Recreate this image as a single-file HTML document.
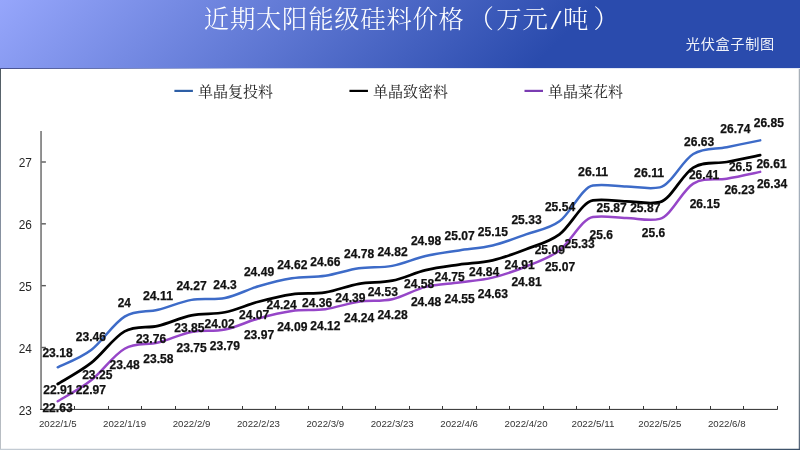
<!DOCTYPE html>
<html lang="zh-CN">
<head>
<meta charset="utf-8">
<title>近期太阳能级硅料价格（万元/吨）</title>
<style>
html,body{margin:0;padding:0;background:#fff;}
body{width:800px;height:450px;overflow:hidden;}
svg{display:block;will-change:transform;}
.t{font-family:"Liberation Serif","Noto Serif CJK SC",serif;font-weight:300;fill:#fff;font-size:25.4px;letter-spacing:0.7px;}
.s{font-family:"Liberation Sans","Noto Sans CJK SC",sans-serif;fill:#fff;font-size:14.2px;letter-spacing:0.65px;font-weight:400;fill-opacity:0.93;}
.lg{font-family:"Liberation Serif","Noto Serif CJK SC",serif;font-weight:400;fill:#222;font-size:15px;}
.ax{font-family:"Liberation Sans",sans-serif;fill:#262626;font-size:12px;}
.dt{font-family:"Liberation Sans",sans-serif;fill:#333;font-size:9.8px;}
.dl{font-family:"Liberation Sans",sans-serif;font-weight:bold;fill:#111;font-size:12.2px;stroke:#111;stroke-width:0.25px;}
</style>
</head>
<body>
<svg width="800" height="450" viewBox="0 0 800 450">
<defs>
<linearGradient id="hg" gradientUnits="userSpaceOnUse" x1="0" y1="0" x2="300" y2="300">
<stop offset="0" stop-color="#96a6fb"/>
<stop offset="1" stop-color="#2a4bad"/>
</linearGradient>
<linearGradient id="hl" gradientUnits="userSpaceOnUse" x1="0" y1="0" x2="800" y2="0"><stop offset="0" stop-color="#46508f" stop-opacity="1"/><stop offset="0.12" stop-color="#4a5aa0" stop-opacity="0.85"/><stop offset="0.3" stop-color="#4660b8" stop-opacity="0.35"/><stop offset="0.5" stop-color="#3a58b4" stop-opacity="0.15"/><stop offset="1" stop-color="#2a4aaa" stop-opacity="0.12"/></linearGradient>
<linearGradient id="bl" x1="0" y1="0" x2="0" y2="1"><stop offset="0" stop-color="#4f5a60"/><stop offset="0.36" stop-color="#808b9b"/><stop offset="1" stop-color="#bcc1c6"/></linearGradient>
<linearGradient id="br" x1="0" y1="0" x2="0" y2="1"><stop offset="0" stop-color="#a8b0b8"/><stop offset="0.36" stop-color="#a3aebb"/><stop offset="0.74" stop-color="#7f8a8e"/><stop offset="1" stop-color="#55657a"/></linearGradient>
<linearGradient id="bb" x1="0" y1="0" x2="1" y2="0"><stop offset="0" stop-color="#c4ccd4"/><stop offset="0.5" stop-color="#9fa9b5"/><stop offset="0.75" stop-color="#707d8b"/><stop offset="1" stop-color="#3a5068"/></linearGradient>
</defs>
<rect x="0" y="0" width="800" height="450" fill="#ffffff"/>
<rect x="0" y="0" width="800" height="68" fill="url(#hg)"/>
<rect x="0" y="68" width="800" height="1" fill="url(#hl)"/>
<rect x="0" y="69" width="1" height="381" fill="url(#bl)"/>
<rect x="798.75" y="69" width="1.25" height="381" fill="url(#br)"/>
<rect x="0" y="448.75" width="800" height="1.25" fill="url(#bb)"/>
<text class="t" y="28.3"><tspan x="203.8">近期太阳能级硅料价格</tspan><tspan x="468.5">（</tspan><tspan x="496.3">万元</tspan><tspan x="563">吨</tspan><tspan x="593.5">）</tspan></text>
<text class="t" transform="translate(550.6 28.5) scale(1.55 1.08)" x="0" y="0">/</text>
<text class="s" x="685.8" y="48.8">光伏盒子制图</text>
<rect x="174.40" y="89.8" width="18.5" height="2.2" fill="#2e5fa6"/>
<text class="lg" x="198.0" y="96.9">单晶复投料</text>
<rect x="349.45" y="89.8" width="18.5" height="2.2" fill="#000000"/>
<text class="lg" x="373.1" y="96.9">单晶致密料</text>
<rect x="524.50" y="89.8" width="18.5" height="2.2" fill="#7a3cb2"/>
<text class="lg" x="548.1" y="96.9">单晶菜花料</text>
<rect x="40.1" y="131" width="1.9" height="279" fill="#8c8c8c"/>
<rect x="40.1" y="408.9" width="737.7" height="1.05" fill="#383838"/>
<rect x="41.5" y="161.30" width="4.4" height="1.4" fill="#5a5a5a"/>
<text class="ax" x="18.7" y="167.20" textLength="13.2" lengthAdjust="spacingAndGlyphs">27</text>
<rect x="41.5" y="223.13" width="4.4" height="1.4" fill="#5a5a5a"/>
<text class="ax" x="18.7" y="229.03" textLength="13.2" lengthAdjust="spacingAndGlyphs">26</text>
<rect x="41.5" y="284.96" width="4.4" height="1.4" fill="#5a5a5a"/>
<text class="ax" x="18.7" y="290.86" textLength="13.2" lengthAdjust="spacingAndGlyphs">25</text>
<rect x="41.5" y="346.79" width="4.4" height="1.4" fill="#5a5a5a"/>
<text class="ax" x="18.7" y="352.69" textLength="13.2" lengthAdjust="spacingAndGlyphs">24</text>
<text class="ax" x="18.7" y="414.82" textLength="13.2" lengthAdjust="spacingAndGlyphs">23</text>
<rect x="74" y="406" width="1" height="3" fill="#383838"/>
<rect x="108" y="406" width="1" height="3" fill="#383838"/>
<rect x="141" y="406" width="1" height="3" fill="#383838"/>
<rect x="175" y="406" width="1" height="3" fill="#383838"/>
<rect x="208" y="406" width="1" height="3" fill="#383838"/>
<rect x="242" y="406" width="1" height="3" fill="#383838"/>
<rect x="275" y="406" width="1" height="3" fill="#383838"/>
<rect x="308" y="406" width="1" height="3" fill="#383838"/>
<rect x="342" y="406" width="1" height="3" fill="#383838"/>
<rect x="375" y="406" width="1" height="3" fill="#383838"/>
<rect x="409" y="406" width="1" height="3" fill="#383838"/>
<rect x="442" y="406" width="1" height="3" fill="#383838"/>
<rect x="476" y="406" width="1" height="3" fill="#383838"/>
<rect x="509" y="406" width="1" height="3" fill="#383838"/>
<rect x="543" y="406" width="1" height="3" fill="#383838"/>
<rect x="576" y="406" width="1" height="3" fill="#383838"/>
<rect x="609" y="406" width="1" height="3" fill="#383838"/>
<rect x="643" y="406" width="1" height="3" fill="#383838"/>
<rect x="676" y="406" width="1" height="3" fill="#383838"/>
<rect x="710" y="406" width="1" height="3" fill="#383838"/>
<rect x="743" y="406" width="1" height="3" fill="#383838"/>
<rect x="777" y="406" width="1" height="3" fill="#383838"/>
<text class="dt" x="38.88" y="426.7" textLength="37.7" lengthAdjust="spacingAndGlyphs">2022/1/5</text>
<text class="dt" x="103.12" y="426.7" textLength="43.0" lengthAdjust="spacingAndGlyphs">2022/1/19</text>
<text class="dt" x="172.68" y="426.7" textLength="37.7" lengthAdjust="spacingAndGlyphs">2022/2/9</text>
<text class="dt" x="236.93" y="426.7" textLength="43.0" lengthAdjust="spacingAndGlyphs">2022/2/23</text>
<text class="dt" x="306.48" y="426.7" textLength="37.7" lengthAdjust="spacingAndGlyphs">2022/3/9</text>
<text class="dt" x="370.73" y="426.7" textLength="43.0" lengthAdjust="spacingAndGlyphs">2022/3/23</text>
<text class="dt" x="440.28" y="426.7" textLength="37.7" lengthAdjust="spacingAndGlyphs">2022/4/6</text>
<text class="dt" x="504.53" y="426.7" textLength="43.0" lengthAdjust="spacingAndGlyphs">2022/4/20</text>
<text class="dt" x="571.43" y="426.7" textLength="43.0" lengthAdjust="spacingAndGlyphs">2022/5/11</text>
<text class="dt" x="638.33" y="426.7" textLength="43.0" lengthAdjust="spacingAndGlyphs">2022/5/25</text>
<text class="dt" x="707.88" y="426.7" textLength="37.7" lengthAdjust="spacingAndGlyphs">2022/6/8</text>
<path d="M57.73 367.28 C63.30 364.39 80.03 358.41 91.18 349.96 C102.33 341.51 113.47 323.27 124.62 316.57 C135.78 309.88 146.93 312.56 158.08 309.77 C169.23 306.99 180.38 301.84 191.53 299.88 C202.68 297.92 213.83 300.29 224.98 298.03 C236.13 295.76 247.28 289.58 258.43 286.28 C269.57 282.98 280.73 279.99 291.88 278.24 C303.02 276.49 314.18 277.42 325.33 275.77 C336.48 274.12 347.63 270.00 358.78 268.35 C369.93 266.70 381.08 267.94 392.23 265.87 C403.38 263.81 414.52 258.56 425.68 255.98 C436.83 253.41 447.98 252.17 459.13 250.42 C470.28 248.67 481.43 248.15 492.58 245.47 C503.73 242.79 514.88 238.36 526.03 234.34 C537.18 230.32 548.33 229.50 559.48 221.36 C570.62 213.22 581.78 187.24 592.93 185.50 C604.08 183.75 615.23 186.11 626.38 186.42 C637.52 186.73 648.68 189.78 659.83 187.35 C670.98 184.92 682.13 160.66 693.28 153.96 C704.43 147.26 715.58 149.43 726.73 147.16 C737.88 144.89 754.60 141.49 760.18 140.36" fill="none" stroke="#3d6bc8" stroke-width="2.5" stroke-linecap="round" stroke-linejoin="round"/>
<path d="M57.73 383.97 C63.30 380.47 80.03 371.71 91.18 362.95 C102.33 354.19 113.47 337.60 124.62 331.41 C135.78 325.23 146.93 328.53 158.08 325.85 C169.23 323.17 180.38 317.61 191.53 315.34 C202.68 313.07 213.83 314.51 224.98 312.25 C236.13 309.98 247.28 304.72 258.43 301.74 C269.57 298.75 280.73 295.86 291.88 294.32 C303.02 292.77 314.18 294.21 325.33 292.46 C336.48 290.71 347.63 285.76 358.78 283.81 C369.93 281.85 381.08 282.98 392.23 280.71 C403.38 278.45 414.52 272.88 425.68 270.20 C436.83 267.52 447.98 266.29 459.13 264.64 C470.28 262.99 481.43 262.89 492.58 260.31 C503.73 257.73 514.88 253.51 526.03 249.18 C537.18 244.85 548.33 242.48 559.48 234.34 C570.62 226.20 581.78 201.99 592.93 200.33 C604.08 198.68 615.23 200.95 626.38 201.26 C637.52 201.57 648.68 204.72 659.83 202.19 C670.98 199.66 682.13 174.26 693.28 167.56 C704.43 160.87 715.58 164.06 726.73 162.00 C737.88 159.94 754.60 156.33 760.18 155.20" fill="none" stroke="#000000" stroke-width="2.75" stroke-linecap="round" stroke-linejoin="round"/>
<path d="M57.73 401.28 C63.30 397.78 80.03 389.02 91.18 380.26 C102.33 371.50 113.47 355.01 124.62 348.73 C135.78 342.44 146.93 345.33 158.08 342.54 C169.23 339.76 180.38 334.20 191.53 332.03 C202.68 329.87 213.83 331.83 224.98 329.56 C236.13 327.29 247.28 321.52 258.43 318.43 C269.57 315.34 280.73 312.56 291.88 311.01 C303.02 309.46 314.18 310.70 325.33 309.16 C336.48 307.61 347.63 303.38 358.78 301.74 C369.93 300.09 381.08 301.74 392.23 299.26 C403.38 296.79 414.52 289.68 425.68 286.90 C436.83 284.11 447.98 284.11 459.13 282.57 C470.28 281.02 481.43 280.30 492.58 277.62 C503.73 274.94 514.88 271.03 526.03 266.49 C537.18 261.96 548.33 258.66 559.48 250.42 C570.62 242.17 581.78 218.65 592.93 217.03 C604.08 215.41 615.23 217.65 626.38 217.96 C637.52 218.27 648.68 221.46 659.83 218.88 C670.98 216.31 682.13 190.34 693.28 183.64 C704.43 176.94 715.58 180.65 726.73 178.69 C737.88 176.74 754.60 173.03 760.18 171.89" fill="none" stroke="#9646c8" stroke-width="2.5" stroke-linecap="round" stroke-linejoin="round"/>
<text class="dl" x="42.40" y="357.40" textLength="30.2" lengthAdjust="spacingAndGlyphs">23.18</text>
<text class="dl" x="75.78" y="340.65" textLength="30.2" lengthAdjust="spacingAndGlyphs">23.46</text>
<text class="dl" x="117.78" y="307.40" textLength="13.2" lengthAdjust="spacingAndGlyphs">24</text>
<text class="dl" x="142.90" y="300.00" textLength="30.2" lengthAdjust="spacingAndGlyphs">24.11</text>
<text class="dl" x="176.40" y="290.40" textLength="30.2" lengthAdjust="spacingAndGlyphs">24.27</text>
<text class="dl" x="213.30" y="288.65" textLength="23.4" lengthAdjust="spacingAndGlyphs">24.3</text>
<text class="dl" x="243.90" y="276.15" textLength="30.2" lengthAdjust="spacingAndGlyphs">24.49</text>
<text class="dl" x="277.15" y="268.65" textLength="30.2" lengthAdjust="spacingAndGlyphs">24.62</text>
<text class="dl" x="310.27" y="265.65" textLength="30.2" lengthAdjust="spacingAndGlyphs">24.66</text>
<text class="dl" x="344.02" y="258.15" textLength="30.2" lengthAdjust="spacingAndGlyphs">24.78</text>
<text class="dl" x="377.40" y="255.90" textLength="30.2" lengthAdjust="spacingAndGlyphs">24.82</text>
<text class="dl" x="410.90" y="245.15" textLength="30.2" lengthAdjust="spacingAndGlyphs">24.98</text>
<text class="dl" x="444.52" y="240.15" textLength="30.2" lengthAdjust="spacingAndGlyphs">25.07</text>
<text class="dl" x="477.77" y="235.65" textLength="30.2" lengthAdjust="spacingAndGlyphs">25.15</text>
<text class="dl" x="511.40" y="223.90" textLength="30.2" lengthAdjust="spacingAndGlyphs">25.33</text>
<text class="dl" x="544.90" y="210.90" textLength="30.2" lengthAdjust="spacingAndGlyphs">25.54</text>
<text class="dl" x="578.02" y="176.15" textLength="30.2" lengthAdjust="spacingAndGlyphs">26.11</text>
<text class="dl" x="634.02" y="176.90" textLength="30.2" lengthAdjust="spacingAndGlyphs">26.11</text>
<text class="dl" x="684.10" y="146.00" textLength="30.2" lengthAdjust="spacingAndGlyphs">26.63</text>
<text class="dl" x="720.30" y="133.00" textLength="30.2" lengthAdjust="spacingAndGlyphs">26.74</text>
<text class="dl" x="753.70" y="127.00" textLength="30.2" lengthAdjust="spacingAndGlyphs">26.85</text>
<text class="dl" x="43.27" y="393.65" textLength="30.2" lengthAdjust="spacingAndGlyphs">22.91</text>
<text class="dl" x="82.15" y="378.90" textLength="30.2" lengthAdjust="spacingAndGlyphs">23.25</text>
<text class="dl" x="135.90" y="343.15" textLength="30.2" lengthAdjust="spacingAndGlyphs">23.76</text>
<text class="dl" x="174.28" y="331.90" textLength="30.2" lengthAdjust="spacingAndGlyphs">23.85</text>
<text class="dl" x="204.53" y="328.40" textLength="30.2" lengthAdjust="spacingAndGlyphs">24.02</text>
<text class="dl" x="239.03" y="319.40" textLength="30.2" lengthAdjust="spacingAndGlyphs">24.07</text>
<text class="dl" x="266.52" y="309.40" textLength="30.2" lengthAdjust="spacingAndGlyphs">24.24</text>
<text class="dl" x="302.02" y="306.90" textLength="30.2" lengthAdjust="spacingAndGlyphs">24.36</text>
<text class="dl" x="335.27" y="302.40" textLength="30.2" lengthAdjust="spacingAndGlyphs">24.39</text>
<text class="dl" x="367.65" y="296.15" textLength="30.2" lengthAdjust="spacingAndGlyphs">24.53</text>
<text class="dl" x="404.02" y="288.15" textLength="30.2" lengthAdjust="spacingAndGlyphs">24.58</text>
<text class="dl" x="434.52" y="280.65" textLength="30.2" lengthAdjust="spacingAndGlyphs">24.75</text>
<text class="dl" x="469.02" y="276.40" textLength="30.2" lengthAdjust="spacingAndGlyphs">24.84</text>
<text class="dl" x="504.52" y="269.40" textLength="30.2" lengthAdjust="spacingAndGlyphs">24.91</text>
<text class="dl" x="534.65" y="254.15" textLength="30.2" lengthAdjust="spacingAndGlyphs">25.09</text>
<text class="dl" x="564.52" y="248.40" textLength="30.2" lengthAdjust="spacingAndGlyphs">25.33</text>
<text class="dl" x="596.52" y="211.90" textLength="30.2" lengthAdjust="spacingAndGlyphs">25.87</text>
<text class="dl" x="630.15" y="211.90" textLength="30.2" lengthAdjust="spacingAndGlyphs">25.87</text>
<text class="dl" x="688.90" y="178.70" textLength="30.2" lengthAdjust="spacingAndGlyphs">26.41</text>
<text class="dl" x="728.90" y="171.40" textLength="23.4" lengthAdjust="spacingAndGlyphs">26.5</text>
<text class="dl" x="756.40" y="168.40" textLength="30.2" lengthAdjust="spacingAndGlyphs">26.61</text>
<text class="dl" x="42.40" y="411.70" textLength="30.2" lengthAdjust="spacingAndGlyphs">22.63</text>
<text class="dl" x="75.78" y="393.65" textLength="30.2" lengthAdjust="spacingAndGlyphs">22.97</text>
<text class="dl" x="109.53" y="369.40" textLength="30.2" lengthAdjust="spacingAndGlyphs">23.48</text>
<text class="dl" x="143.28" y="363.15" textLength="30.2" lengthAdjust="spacingAndGlyphs">23.58</text>
<text class="dl" x="176.53" y="351.90" textLength="30.2" lengthAdjust="spacingAndGlyphs">23.75</text>
<text class="dl" x="209.78" y="350.40" textLength="30.2" lengthAdjust="spacingAndGlyphs">23.79</text>
<text class="dl" x="243.90" y="338.65" textLength="30.2" lengthAdjust="spacingAndGlyphs">23.97</text>
<text class="dl" x="277.15" y="331.40" textLength="30.2" lengthAdjust="spacingAndGlyphs">24.09</text>
<text class="dl" x="310.27" y="330.15" textLength="30.2" lengthAdjust="spacingAndGlyphs">24.12</text>
<text class="dl" x="344.02" y="322.40" textLength="30.2" lengthAdjust="spacingAndGlyphs">24.24</text>
<text class="dl" x="377.40" y="319.40" textLength="30.2" lengthAdjust="spacingAndGlyphs">24.28</text>
<text class="dl" x="410.90" y="306.40" textLength="30.2" lengthAdjust="spacingAndGlyphs">24.48</text>
<text class="dl" x="444.52" y="302.65" textLength="30.2" lengthAdjust="spacingAndGlyphs">24.55</text>
<text class="dl" x="477.77" y="298.15" textLength="30.2" lengthAdjust="spacingAndGlyphs">24.63</text>
<text class="dl" x="511.40" y="286.40" textLength="30.2" lengthAdjust="spacingAndGlyphs">24.81</text>
<text class="dl" x="544.90" y="270.65" textLength="30.2" lengthAdjust="spacingAndGlyphs">25.07</text>
<text class="dl" x="589.55" y="239.40" textLength="23.4" lengthAdjust="spacingAndGlyphs">25.6</text>
<text class="dl" x="641.80" y="237.40" textLength="23.4" lengthAdjust="spacingAndGlyphs">25.6</text>
<text class="dl" x="689.65" y="208.15" textLength="30.2" lengthAdjust="spacingAndGlyphs">26.15</text>
<text class="dl" x="724.40" y="194.40" textLength="30.2" lengthAdjust="spacingAndGlyphs">26.23</text>
<text class="dl" x="756.90" y="188.40" textLength="30.2" lengthAdjust="spacingAndGlyphs">26.34</text>
</svg>
</body>
</html>
